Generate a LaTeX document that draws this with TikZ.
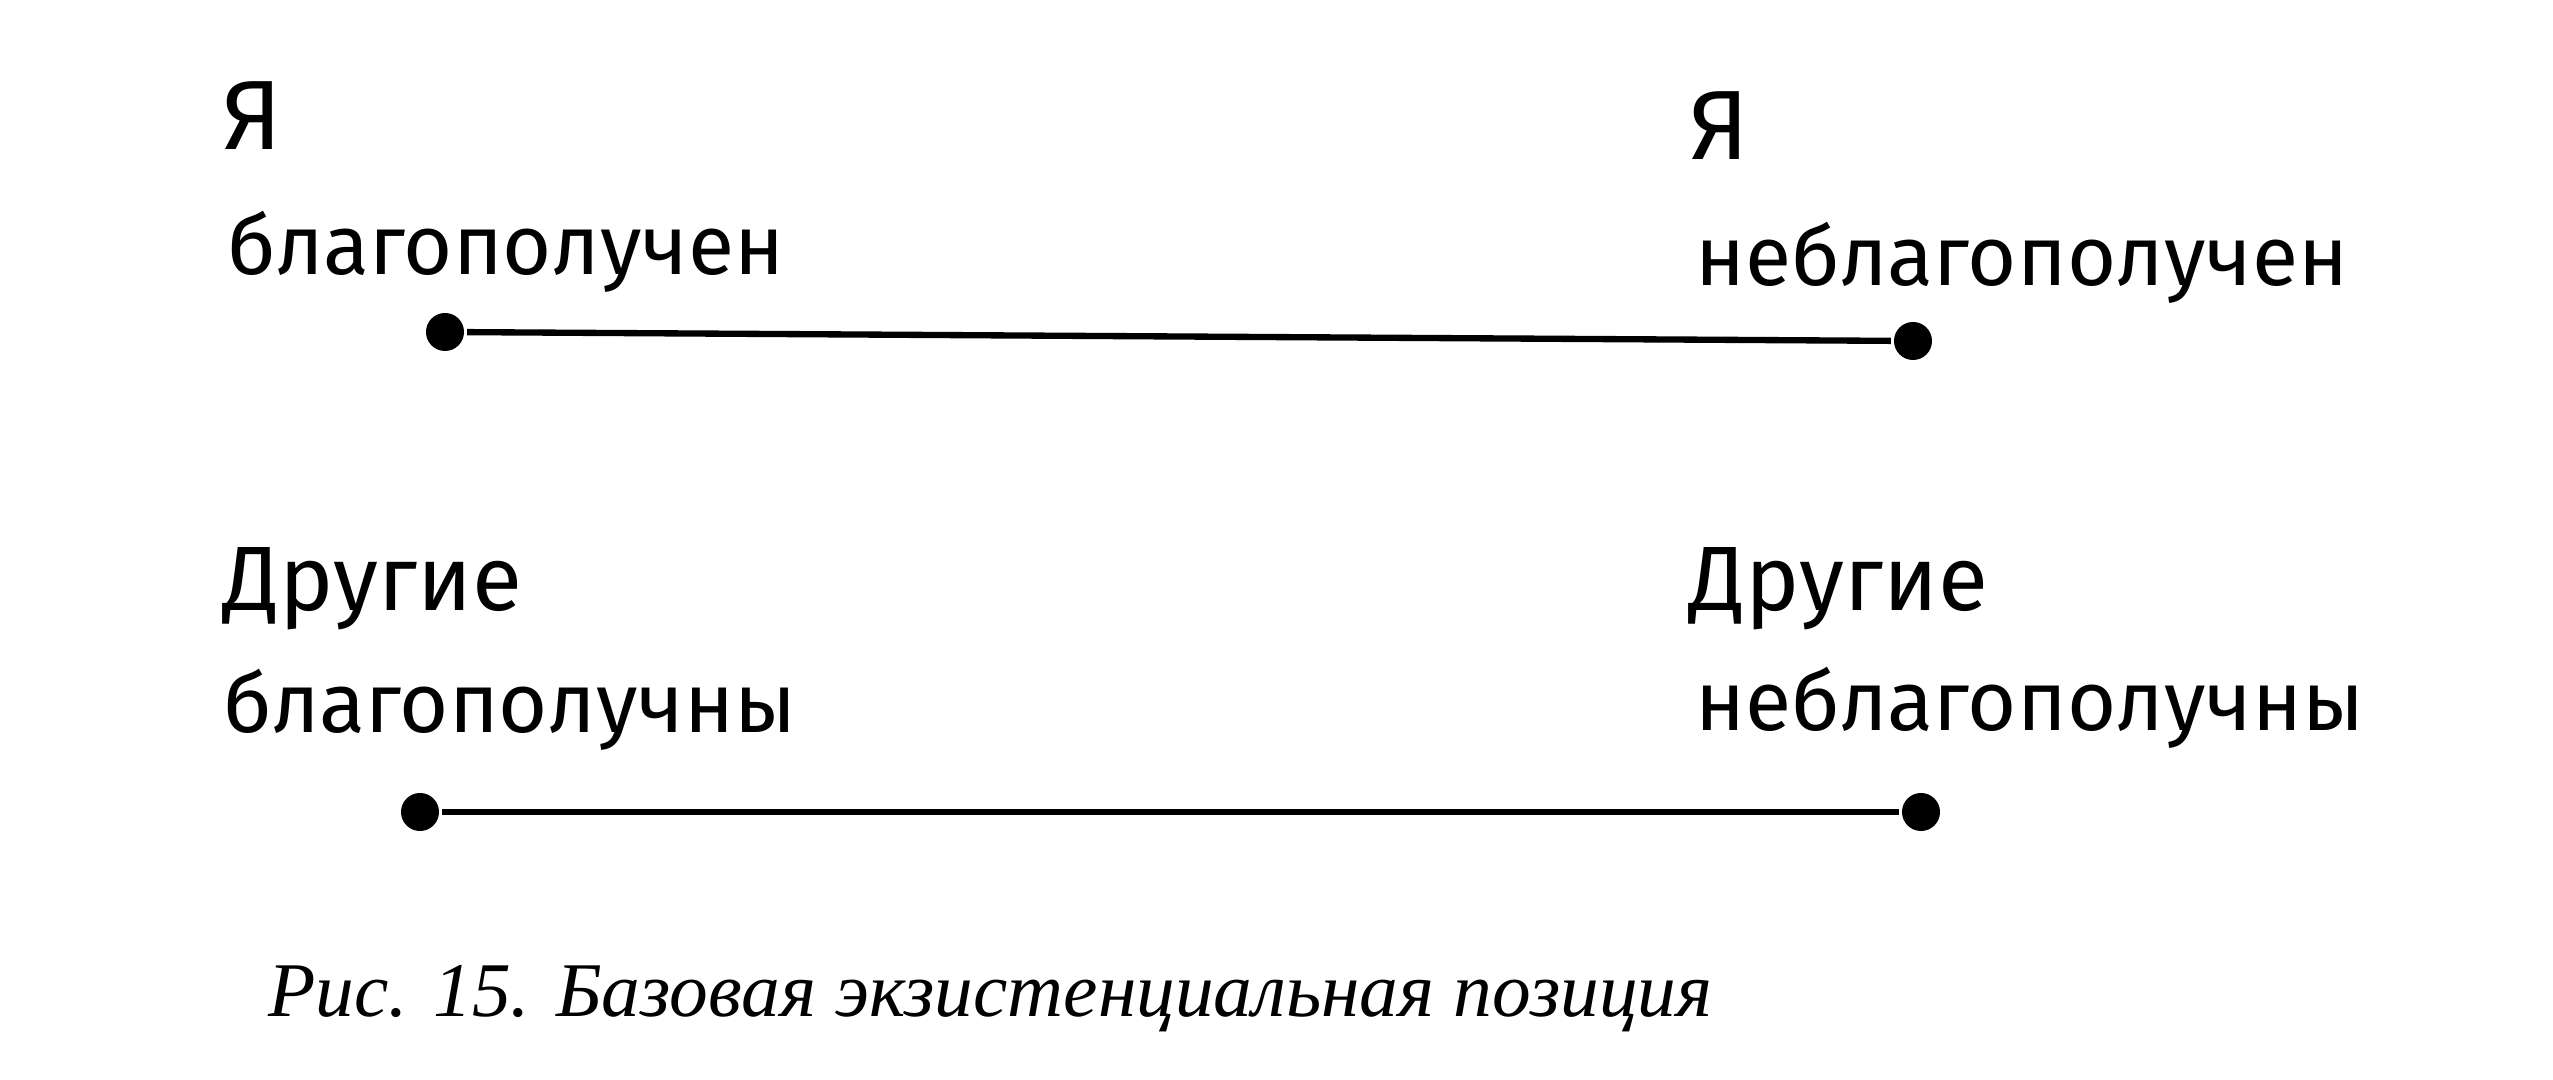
\documentclass[tikz,border=0pt]{standalone}
\usepackage{fontspec}
\setmainfont{Fira Sans}
\newfontfamily\capfont{Liberation Serif}
\usepackage{tikz}

\begin{document}
\begin{tikzpicture}[x=0.01cm, y=-0.01cm, line width=1.8pt,
    word/.style={anchor=base west, inner sep=0pt, font=\fontsize{24}{28}\selectfont},
    dot/.style={circle, fill, inner sep=0pt, minimum size=0.38cm}]
            \useasboundingbox (0,0) rectangle (2553,1080);
            \node at (219,150) [word, font=\fontsize{28}{32}\selectfont] (i1) {Я};
            \node at (224,275) [word] (w1) {благополучен};
            \node at (1686,160) [word, font=\fontsize{28}{32}\selectfont] (i2) {Я};
            \node at (1692,286) [word] (w2) {неблагополучен};
            \node at (220,611) [word, font=\fontsize{26}{30}\selectfont] (o1) {Другие};
            \node at (220,733) [word] (p1) {благополучны};
            \node at (1686,611) [word, font=\fontsize{26}{30}\selectfont] (o2) {Другие};
            \node at (1692,731) [word] (p2) {неблагополучны};
            \node at (445,332) [dot] (d1) {};
            \node at (1913,341) [dot] (d2) {};
            \node at (420,812) [dot] (d3) {};
            \node at (1921,812) [dot] (d4) {};
            \draw (d1) -- (d2);
            \draw (d3) -- (d4);
            \node at (265,1017) [anchor=base west, inner sep=0pt, font=\capfont\itshape\fontsize{22}{26}\selectfont] (cap) {Рис. 15. Базовая экзистенциальная позиция};
        \end{tikzpicture}
\end{document}
